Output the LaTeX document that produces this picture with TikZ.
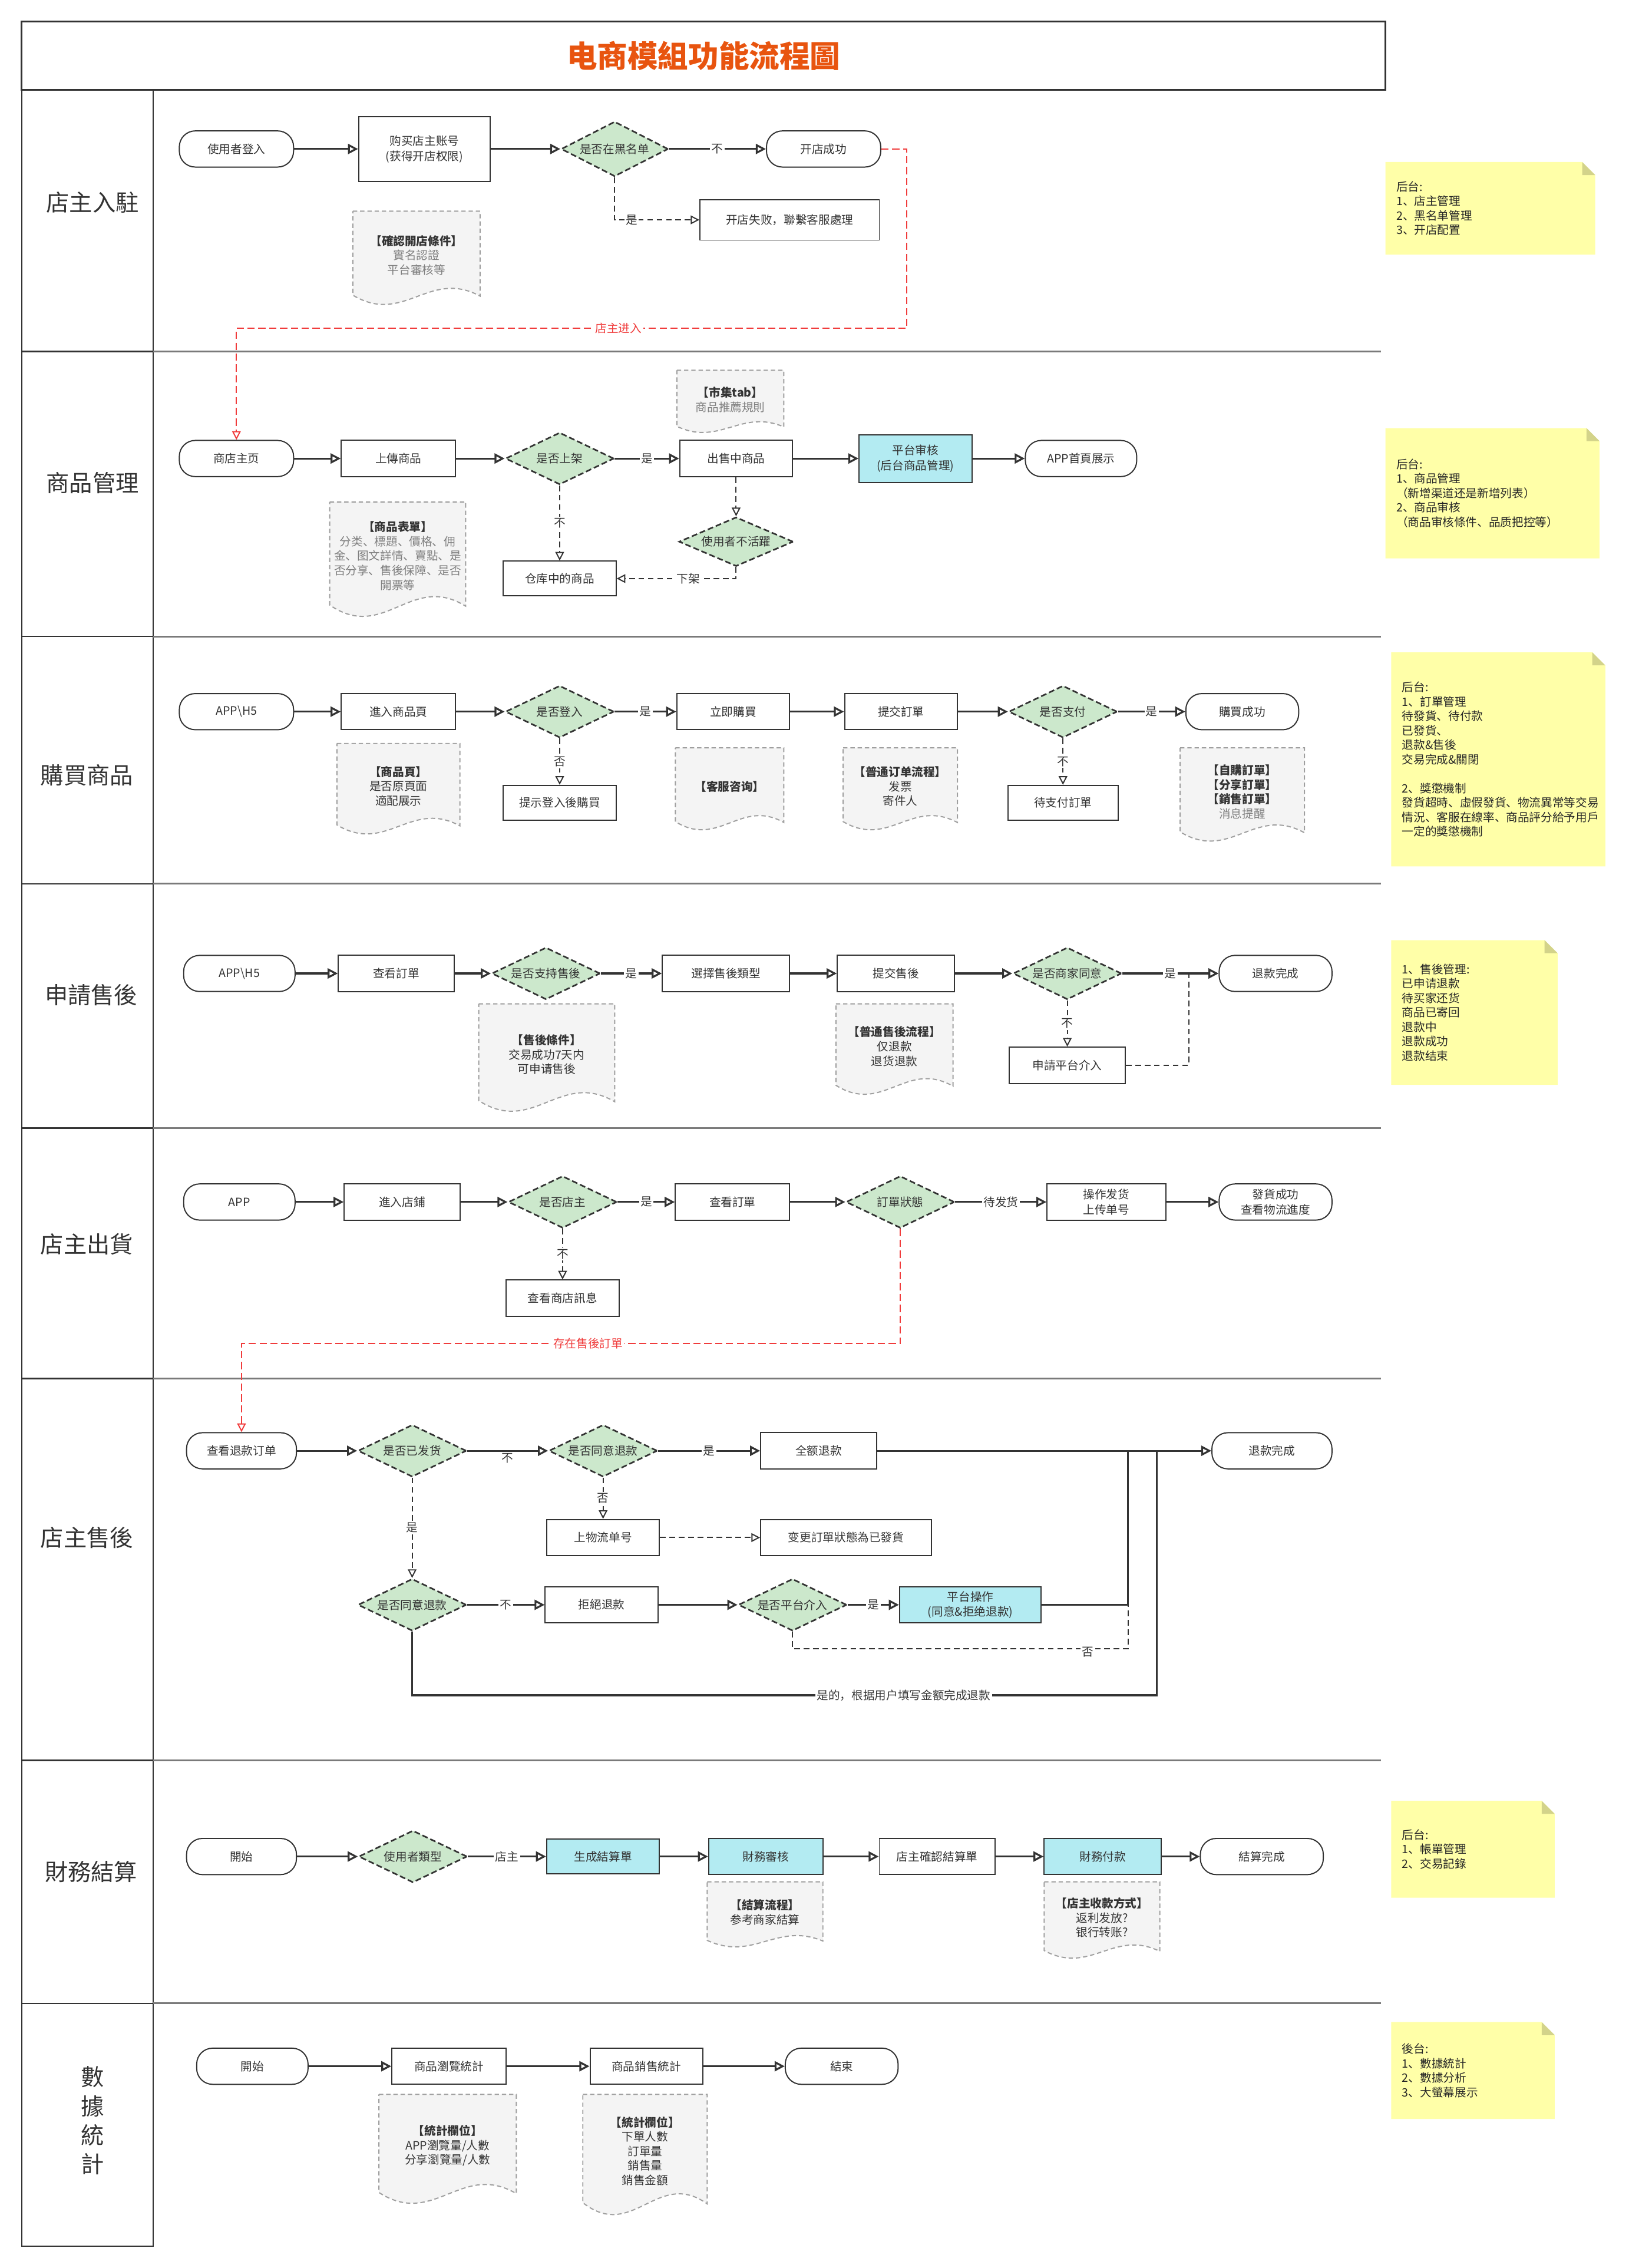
\documentclass[tikz,border=0pt]{standalone}
\usepackage{fontspec}
\setmainfont{Noto Sans CJK SC}
\usepackage{xcolor}
\usetikzlibrary{positioning,arrows.meta,shapes.geometric,calc}

\definecolor{titleorange}{HTML}{E8540F}
\definecolor{linegray}{HTML}{333333}
\definecolor{decgreen}{HTML}{CCE8CC}
\definecolor{proccyan}{HTML}{B3EBF2}
\definecolor{noteyellow}{HTML}{FFFFA8}
\definecolor{notefold}{HTML}{D3D38A}
\definecolor{docgray}{HTML}{F4F4F4}
\definecolor{flowred}{HTML}{F03C3C}
\definecolor{lanegray}{HTML}{7A7A7A}

% wavy-bottom annotation: name, x1, y1, x2, y2, text
\newcommand{\docnote}[6]{%
  \draw[docline] (#2,#3) -- (#4,#3) -- (#4,{#3+0.89*(#5-#3)})
    .. controls ({#2+0.6*(#4-#2)},{#3+0.6*(#5-#3)}) and ({#2+0.4*(#4-#2)},{#3+1.2*(#5-#3)}) .. (#2,{#3+0.88*(#5-#3)}) -- cycle;
  \node[doctext] (#1) at ({(#2+#4)/2},{#3+0.46*(#5-#3)}) {#6};}
% yellow sticky note: name, x1, y1, x2, y2, text
\newcommand{\stickynote}[6]{%
  \fill[noteyellow] (#2,#3) -- ({#4-9},#3) -- (#4,{#3+9}) -- (#4,#5) -- (#2,#5) -- cycle;
  \fill[notefold] ({#4-9},#3) -- ({#4-9},{#3+9}) -- (#4,{#3+9}) -- cycle;
  \node[notetext] (#1) at ({#2+4},{(#3+#5)/2}) {#6};}

\begin{document}
\begin{tikzpicture}[x=1pt, y=-1pt,
    base/.style={draw=linegray, line width=0.8pt, fill=white, minimum height=25pt, inner sep=1pt, align=center, text=linegray, font={\fontsize{8}{10.5}\selectfont}},
    term/.style={base, rounded corners=11pt, minimum width=79pt},
    proc/.style={base, rectangle, minimum width=79pt},
    cyanproc/.style={proc, fill=proccyan},
    dec/.style={base, diamond, shape aspect=2, fill=decgreen, line width=1.1pt, dash pattern=on 4pt off 2pt, minimum width=75pt, minimum height=36pt, inner sep=0pt},
    arr/.style={-{Triangle[open, length=7pt, width=7pt]}, line width=1.3pt, draw=linegray},
    darr/.style={-{Triangle[open, length=6pt, width=6pt]}, line width=0.8pt, draw=linegray, dash pattern=on 4pt off 2.5pt},
    dline/.style={line width=0.8pt, draw=linegray, dash pattern=on 4pt off 2.5pt},
    sline/.style={line width=1.3pt, draw=linegray},
    rarr/.style={-{Triangle[open, length=6pt, width=6pt]}, line width=0.8pt, draw=flowred, dash pattern=on 5pt off 2.5pt},
    lbl/.style={fill=white, inner sep=1pt, text=linegray, font={\fontsize{8}{10}\selectfont}},
    rlbl/.style={lbl, text=flowred},
    lane/.style={text=linegray, font={\fontsize{16}{20}\selectfont}, align=center},
    frame/.style={draw=linegray, line width=1pt},
    lanesep/.style={draw=lanegray, line width=1.2pt},
    titlebox/.style={draw=linegray, line width=1.3pt, minimum width=943pt, minimum height=47pt, text=titleorange, font={\fontsize{21}{24}\selectfont\bfseries}},
    docline/.style={draw=gray!75, fill=docgray, line width=0.8pt, dash pattern=on 3pt off 2pt},
    doctext/.style={align=center, text=linegray, font={\fontsize{8}{10}\selectfont}},
    notetext/.style={align=left, anchor=west, text=black!85, font={\fontsize{8}{10}\selectfont}}
  ]
  \useasboundingbox (0,0) rectangle (1126,1568);

  \node[titlebox] (title) at (486.5,38.5) {电商模組功能流程圖};
  \draw[frame] (15,62) rectangle (106,1553);
  \draw[frame] (15,243) -- (106,243);
  \draw[frame] (15,440) -- (106,440);
  \draw[frame] (15,611) -- (106,611);
  \draw[frame] (15,780) -- (106,780);
  \draw[frame] (15,953) -- (106,953);
  \draw[frame] (15,1217) -- (106,1217);
  \draw[frame] (15,1385) -- (106,1385);
  \draw[lanesep] (106,243) -- (955,243);
  \draw[lanesep] (106,440) -- (955,440);
  \draw[lanesep] (106,611) -- (955,611);
  \draw[lanesep] (106,780) -- (955,780);
  \draw[lanesep] (106,953) -- (955,953);
  \draw[lanesep] (106,1217) -- (955,1217);
  \draw[lanesep] (106,1385) -- (955,1385);

  \node[lane] (lane1) at (64,140) {店主入駐};
  \node[lane] (lane2) at (64,334) {商品管理};
  \node[lane] (lane3) at (60,536) {購買商品};
  \node[lane] (lane4) at (63,688) {申請售後};
  \node[lane] (lane5) at (60,860) {店主出貨};
  \node[lane] (lane6) at (60,1063) {店主售後};
  \node[lane] (lane7) at (63,1294) {財務結算};
  \node[lane] (lane8) at (64,1466) {數\\據\\統\\計};

  % 店主入駐
  \docnote{d1}{244}{146}{332}{212}{\textbf{【確認開店條件】}\\\textcolor{gray}{實名認證}\\\textcolor{gray}{平台審核等}}
  \stickynote{n1}{958}{112}{1103}{176}{后台:\\1、店主管理\\2、黑名单管理\\3、开店配置}
  \node[term] (l1a) at (163.5,103) {使用者登入};
  \node[proc, minimum width=91pt, minimum height=45pt] (l1b) at (293.5,103) {购买店主账号\\(获得开店权限)};
  \node[dec, minimum width=74pt, minimum height=38pt] (l1c) at (425,103) {是否在黑名单};
  \node[term] (l1d) at (569.5,103) {开店成功};
  \node[proc, minimum width=124pt, minimum height=28pt] (l1e) at (546,152) {开店失败，聯繫客服處理};
  \draw[arr] (l1a) -- (l1b);
  \draw[arr] (l1b) -- (l1c);
  \draw[arr] (l1c) -- node[lbl] {不} (l1d);
  \draw[darr] (l1c.south) |- node[lbl, pos=0.6] {是} (l1e.west);

  % 商品管理
  \docnote{d2}{468}{256}{542}{300}{\textbf{【市集tab】}\\\textcolor{gray}{商品推薦規則}}
  \docnote{d3}{228}{347}{322}{428}{\textbf{【商品表單】}\\\textcolor{gray}{分类、標題、價格、佣}\\\textcolor{gray}{金、图文詳情、賣點、是}\\\textcolor{gray}{否分享、售後保障、是否}\\\textcolor{gray}{開票等}}
  \stickynote{n2}{958}{296}{1106}{386}{后台:\\1、商品管理\\（新增渠道还是新增列表）\\2、商品审核\\（商品审核條件、品质把控等）}
  \node[term] (l2a) at (163.5,317) {商店主页};
  \node[proc] (l2b) at (275.5,317) {上傳商品};
  \node[dec] (l2c) at (387,317) {是否上架};
  \node[proc, minimum width=78pt] (l2d) at (509,317) {出售中商品};
  \node[cyanproc, minimum width=78pt, minimum height=33pt] (l2e) at (633,317) {平台审核\\(后台商品管理)};
  \node[term, minimum width=77pt] (l2f) at (747.5,317) {APP首頁展示};
  \node[proc, minimum width=78pt, minimum height=24pt] (l2g) at (387,400) {仓库中的商品};
  \node[dec, minimum width=79pt, minimum height=34pt] (l2h) at (509,374.5) {使用者不活躍};
  \draw[arr] (l2a) -- (l2b);
  \draw[arr] (l2b) -- (l2c);
  \draw[arr] (l2c) -- node[lbl] {是} (l2d);
  \draw[arr] (l2d) -- (l2e);
  \draw[arr] (l2e) -- (l2f);
  \draw[darr] (l2c) -- node[lbl] {不} (l2g);
  \draw[darr] (l2d) -- (l2h);
  \draw[darr] (l2h.south) |- node[lbl, pos=0.7] {下架} (l2g.east);
  \coordinate (r1) at (627,227);
  \draw[rarr] (l1d.east) -| (r1) -- node[rlbl, pos=0.43] {店主进入} (r1 -| l2a) -- (l2a.north);

  % 購買商品
  \docnote{d4}{233}{514}{318}{578}{\textbf{【商品頁】}\\是否原頁面\\適配展示}
  \docnote{d5}{467}{517}{542}{575}{\textbf{【客服咨询】}}
  \docnote{d6}{583}{517}{662}{575}{\textbf{【普通订单流程】}\\发票\\寄件人}
  \docnote{d7}{816}{517}{902}{583}{\textbf{【自購訂單】}\\\textbf{【分享訂單】}\\\textbf{【銷售訂單】}\\\textcolor{gray}{消息提醒}}
  \stickynote{n3}{962}{451}{1110}{599}{后台:\\1、訂單管理\\待發貨、待付款\\已發貨、\\退款\&售後\\交易完成\&關閉\\[10pt]2、獎懲機制\\發貨超時、虛假發貨、物流異常等交易\\情況、客服在線率、商品評分給予用戶\\一定的獎懲機制}
  \node[term] (l3a) at (163.5,492) {APP\textbackslash H5};
  \node[proc] (l3b) at (275.5,492) {進入商品頁};
  \node[dec] (l3c) at (387,492) {是否登入};
  \node[proc, minimum width=78pt] (l3d) at (507,492) {立即購買};
  \node[proc, minimum width=78pt] (l3e) at (623,492) {提交訂單};
  \node[dec] (l3f) at (735,492) {是否支付};
  \node[term, minimum width=78pt] (l3g) at (859,492) {購買成功};
  \node[proc, minimum width=78pt, minimum height=24pt] (l3h) at (387,555) {提示登入後購買};
  \node[proc, minimum width=76pt, minimum height=24pt] (l3i) at (735,555) {待支付訂單};
  \draw[arr] (l3a) -- (l3b);
  \draw[arr] (l3b) -- (l3c);
  \draw[arr] (l3c) -- node[lbl] {是} (l3d);
  \draw[arr] (l3d) -- (l3e);
  \draw[arr] (l3e) -- (l3f);
  \draw[arr] (l3f) -- node[lbl] {是} (l3g);
  \draw[darr] (l3c) -- node[lbl] {否} (l3h);
  \draw[darr] (l3f) -- node[lbl] {不} (l3i);

  % 申請售後
  \docnote{d8}{331}{694}{425}{770}{\textbf{【售後條件】}\\交易成功7天内\\可申请售後}
  \docnote{d9}{578}{694}{659}{758}{\textbf{【普通售後流程】}\\仅退款\\退货退款}
  \stickynote{n4}{962}{650}{1077}{750}{1、售後管理:\\已申请退款\\待买家还货\\商品已寄回\\退款中\\退款成功\\退款结束}
  \node[term, minimum width=77pt] (l4a) at (165.5,673) {APP\textbackslash H5};
  \node[proc, minimum width=80pt] (l4b) at (274,673) {查看訂單};
  \node[dec] (l4c) at (377.5,673) {是否支持售後};
  \node[proc, minimum width=88pt] (l4d) at (502,673) {選擇售後類型};
  \node[proc, minimum width=81pt] (l4e) at (619.5,673) {提交售後};
  \node[dec] (l4f) at (738,673) {是否商家同意};
  \node[term, minimum width=78pt] (l4g) at (882,673) {退款完成};
  \node[proc, minimum width=80pt] (l4h) at (738,736.5) {申請平台介入};
  \coordinate (j4) at (822,673);
  \draw[arr] (l4a) -- (l4b);
  \draw[arr] (l4b) -- (l4c);
  \draw[arr] (l4c) -- node[lbl] {是} (l4d);
  \draw[arr] (l4d) -- (l4e);
  \draw[arr] (l4e) -- (l4f);
  \draw[arr] (l4f) -- node[lbl] {是} (l4g);
  \draw[darr] (l4f) -- node[lbl] {不} (l4h);
  \draw[dline] (l4h.east) -| (j4);

  % 店主出貨
  \node[term, minimum width=77pt] (l5a) at (165.5,831) {APP};
  \node[proc, minimum width=80pt] (l5b) at (278,831) {進入店鋪};
  \node[dec] (l5c) at (389,831) {是否店主};
  \node[proc] (l5d) at (506.5,831) {查看訂單};
  \node[dec] (l5e) at (622.5,831) {訂單狀態};
  \node[proc, minimum width=82pt] (l5f) at (765,831) {操作发货\\上传单号};
  \node[term, minimum width=78pt] (l5g) at (882,831) {發貨成功\\查看物流進度};
  \node[proc, minimum width=78pt] (l5h) at (389,897.5) {查看商店訊息};
  \draw[arr] (l5a) -- (l5b);
  \draw[arr] (l5b) -- (l5c);
  \draw[arr] (l5c) -- node[lbl] {是} (l5d);
  \draw[arr] (l5d) -- (l5e);
  \draw[arr] (l5e) -- node[lbl] {待发货} (l5f);
  \draw[arr] (l5f) -- (l5g);
  \draw[darr] (l5c) -- node[lbl] {不} (l5h);

  % 店主售後
  \node[term, minimum width=76pt] (l6a) at (167,1003) {查看退款订单};
  \node[dec] (l6b) at (285,1003) {是否已发货};
  \node[dec] (l6c) at (417,1003) {是否同意退款};
  \node[proc, minimum width=80pt] (l6d) at (566,1003) {全额退款};
  \node[term, minimum width=83pt] (l6e) at (879.5,1003) {退款完成};
  \node[proc, minimum width=78pt] (l6f) at (417,1063) {上物流单号};
  \node[proc, minimum width=118pt] (l6g) at (585,1063) {变更訂單狀態為已發貨};
  \node[dec] (l6h) at (285,1109.5) {是否同意退款};
  \node[proc, minimum width=78pt] (l6i) at (416,1109.5) {拒絕退款};
  \node[dec] (l6j) at (548,1109.5) {是否平台介入};
  \node[cyanproc, minimum width=98pt] (l6k) at (671,1109.5) {平台操作\\(同意\&拒绝退款)};
  \coordinate (j6a) at (780,1109.5);
  \coordinate (j6b) at (780,1003);
  \coordinate (j6c) at (800,1003);
  \coordinate (j6d) at (780,1140);
  \coordinate (j6e) at (800,1172);
  \coordinate (r2) at (167,929);
  \draw[rarr] (l5e.south) |- node[rlbl, pos=0.737] {存在售後訂單} (r2) -- (l6a.north);
  \draw[arr] (l6a) -- (l6b);
  \draw[arr] (l6b) -- node[lbl, yshift=-5pt] {不} (l6c);
  \draw[arr] (l6c) -- node[lbl] {是} (l6d);
  \draw[arr] (l6d) -- (l6e);
  \draw[darr] (l6c) -- node[lbl] {否} (l6f);
  \draw[darr] (l6f) -- (l6g);
  \draw[darr] (l6b) -- node[lbl] {是} (l6h);
  \draw[arr] (l6h) -- node[lbl] {不} (l6i);
  \draw[arr] (l6i) -- (l6j);
  \draw[arr] (l6j) -- node[lbl] {是} (l6k);
  \draw[sline] (l6k.east) -- (j6a) -- (j6b);
  \draw[dline] (l6j.south) |- node[lbl, pos=0.94, yshift=-2pt] {否} (j6d) -- (j6a);
  \draw[sline] (l6h.south) |- node[lbl, pos=0.83] {是的，根据用户填写金额完成退款} (j6e) -- (j6c);

  % 財務結算
  \docnote{d10}{489}{1301}{569}{1347}{\textbf{【結算流程】}\\参考商家結算}
  \docnote{d11}{722}{1301}{802}{1355}{\textbf{【店主收款方式】}\\返利发放?\\银行转账?}
  \stickynote{n7}{962}{1245}{1075}{1312}{后台:\\1、帳單管理\\2、交易記錄}
  \node[term, minimum width=76pt] (l7a) at (167,1283.5) {開始};
  \node[dec] (l7b) at (285.5,1283.5) {使用者類型};
  \node[cyanproc, minimum width=78pt, minimum height=24pt] (l7c) at (417,1283.5) {生成結算單};
  \node[cyanproc] (l7d) at (529.5,1283.5) {財務審核};
  \node[proc, minimum width=80pt] (l7e) at (648,1283.5) {店主確認結算單};
  \node[cyanproc, minimum width=81pt] (l7f) at (762.5,1283.5) {財務付款};
  \node[term, minimum width=85pt] (l7g) at (872.5,1283.5) {結算完成};
  \draw[arr] (l7a) -- (l7b);
  \draw[arr] (l7b) -- node[lbl] {店主} (l7c);
  \draw[arr] (l7c) -- (l7d);
  \draw[arr] (l7d) -- (l7e);
  \draw[arr] (l7e) -- (l7f);
  \draw[arr] (l7f) -- (l7g);

  % 數據統計
  \docnote{d12}{262}{1448}{357}{1525}{\textbf{【統計欄位】}\\APP瀏覽量/人數\\分享瀏覽量/人數}
  \docnote{d13}{403}{1448}{489}{1533}{\textbf{【統計欄位】}\\下單人數\\訂單量\\銷售量\\銷售金額}
  \stickynote{n8}{962}{1398}{1075}{1465}{後台:\\1、數據統計\\2、數據分析\\3、大螢幕展示}
  \node[term, minimum width=77pt] (l8a) at (174.5,1428.5) {開始};
  \node[proc] (l8b) at (310.5,1428.5) {商品瀏覽統計};
  \node[proc, minimum width=78pt] (l8c) at (447,1428.5) {商品銷售統計};
  \node[term, minimum width=78pt] (l8d) at (582,1428.5) {結束};
  \draw[arr] (l8a) -- (l8b);
  \draw[arr] (l8b) -- (l8c);
  \draw[arr] (l8c) -- (l8d);
\end{tikzpicture}
\end{document}
